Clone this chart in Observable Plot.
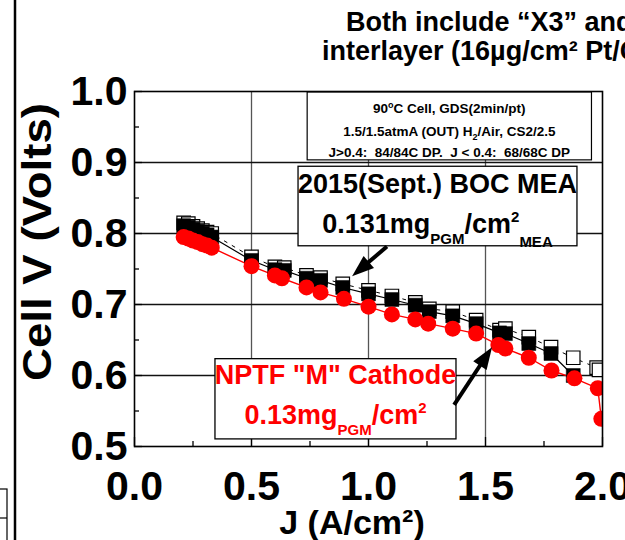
<!DOCTYPE html>
<html><head><meta charset="utf-8">
<script src="https://cdn.jsdelivr.net/npm/d3@7"></script>
<script src="https://cdn.jsdelivr.net/npm/@observablehq/plot@0.6"></script>
<style>
html,body{margin:0;padding:0;background:#fff;overflow:hidden;width:625px;height:540px}
#chart{position:relative;width:625px;height:540px;overflow:hidden}
</style></head><body><div id="chart"></div>
<script>
// ---- data ----
const bocJ = [0.21,0.23,0.25,0.27,0.29,0.31,0.33,0.50,0.60,0.64,0.735,0.795,0.89,1.00,1.10,1.20,1.26,1.36,1.46,1.56,1.585,1.685,1.78,1.875];
const bocV = [0.811,0.809,0.806,0.803,0.800,0.798,0.795,0.762,0.749,0.748,0.737,0.734,0.724,0.715,0.707,0.699,0.690,0.684,0.673,0.660,0.659,0.645,0.631,0.600];
const openJ = [0.21,0.23,0.25,0.27,0.29,0.31,0.33,0.50,0.60,0.64,0.735,0.795,0.89,1.00,1.10,1.20,1.26,1.36,1.46,1.56,1.585,1.685,1.78,1.875,1.975,1.985];
const openV = [0.815,0.814,0.810,0.807,0.804,0.802,0.800,0.767,0.753,0.752,0.741,0.738,0.729,0.720,0.712,0.703,0.694,0.690,0.678,0.664,0.666,0.654,0.640,0.625,0.611,0.608];
const nptfJ = [0.21,0.23,0.25,0.27,0.29,0.31,0.33,0.50,0.60,0.63,0.735,0.795,0.895,1.00,1.10,1.20,1.255,1.36,1.46,1.555,1.585,1.685,1.782,1.88,1.98,1.995];
const nptfV = [0.795,0.793,0.790,0.788,0.785,0.783,0.780,0.754,0.741,0.737,0.724,0.717,0.708,0.697,0.686,0.679,0.673,0.666,0.659,0.643,0.638,0.625,0.607,0.596,0.582,0.539];
const xTicks = [0.0,0.5,1.0,1.5,2.0];
const yTicks = [0.5,0.6,0.7,0.8,0.9,1.0];
const xMinor = [0.25,0.75,1.25,1.75];
const yMinor = [0.55,0.65,0.75,0.85,0.95];
const xGrid = [0.5,1.0,1.5];
const yGrid = [0.6,0.7,0.8,0.9];

const titleLines = ["Both include \u201CX3\u201D and", "interlayer (16\u00B5g/cm\u00B2 Pt/C)"];
const condLines = ["90°C Cell, GDS(2min/pt)", "1.5/1.5atmA (OUT) H2/Air, CS2/2.5", "J>0.4:  84/84C DP.  J < 0.4:  68/68C DP"];

const FONT = "'Liberation Sans', Arial, Helvetica, sans-serif";
const toRows = (J, V) => J.map((j, i) => ({J: j, V: V[i]}));
const boc = toRows(bocJ, bocV), open = toRows(openJ, openV), nptf = toRows(nptfJ, nptfV);

const W = 625, H = 540, ML = 134, MR = 23, MT = 91, MB = 94;
const PW = W - ML - MR, PH = H - MT - MB;

const plot = Plot.plot({
  width: W, height: H, marginLeft: ML, marginRight: MR, marginTop: MT, marginBottom: MB,
  style: {fontFamily: FONT, fontWeight: "bold", background: "white", color: "#000"},
  x: {domain: [0, 2]},
  y: {domain: [0.5, 1.0]},
  marks: [
    Plot.gridX(xGrid, {stroke: "#555", strokeOpacity: 1, strokeWidth: 1.3}),
    Plot.gridY(yGrid, {stroke: "#111", strokeOpacity: 1, strokeWidth: 1.3}),
    Plot.ruleX(xTicks, {insetTop: PH - 9, stroke: "#000", strokeWidth: 1.3}),
    Plot.ruleX(xMinor, {insetTop: PH - 5, stroke: "#000", strokeWidth: 1.3}),
    Plot.ruleY(yTicks, {insetRight: PW - 8, stroke: "#000", strokeWidth: 1.3}),
    Plot.ruleY(yMinor, {insetRight: PW - 5, stroke: "#000", strokeWidth: 1.3}),
    Plot.line(open, {x: "J", y: "V", stroke: "#000", strokeWidth: 1, strokeDasharray: "3,6", clip: true}),
    Plot.line(boc, {x: "J", y: "V", stroke: "#000", strokeWidth: 1.2, clip: true}),
    Plot.line(nptf, {x: "J", y: "V", stroke: "#ff0000", strokeWidth: 1.4, clip: true}),
    Plot.dot(open, {x: "J", y: "V", symbol: "square", r: 7.6, fill: "white", stroke: "#000", strokeWidth: 1.2, clip: true}),
    Plot.dot(boc, {x: "J", y: "V", symbol: "square", r: 7.9, fill: "#000", stroke: "#000", strokeWidth: 0.5, clip: true}),
    Plot.dot(nptf, {x: "J", y: "V", r: 8, fill: "#ff0000", stroke: "none", clip: true}),
    Plot.frame({stroke: "#000", strokeWidth: 1.6}),
    Plot.axisX(xTicks, {tickSize: 0, tickPadding: 24, tickFormat: d => d.toFixed(1), fontSize: 41, fontWeight: "bold", label: null}),
    Plot.axisY(yTicks, {tickSize: 0, tickPadding: 7, tickFormat: d => d.toFixed(1), fontSize: 41, fontWeight: "bold", label: null})
  ]
});
document.getElementById("chart").append(plot);

const sx = plot.scale("x"), sy = plot.scale("y");
const X = v => sx.apply(v), Y = v => sy.apply(v);
const svg = d3.select(plot);
const g = svg.append("g").attr("font-family", FONT).attr("font-weight", "bold").attr("text-anchor", "start");

// left-edge decoration from neighbouring slide
g.append("line").attr("x1", 15).attr("x2", 15).attr("y1", 0).attr("y2", H).attr("stroke", "#000").attr("stroke-width", 2.5);
g.append("rect").attr("x", -3).attr("y", 489).attr("width", 10).attr("height", 60).attr("fill", "none").attr("stroke", "#000").attr("stroke-width", 1.2);
g.append("line").attr("x1", -3).attr("x2", 7).attr("y1", 518).attr("y2", 518).attr("stroke", "#000").attr("stroke-width", 1.2);

// title (cropped by the window)
g.append("text").attr("x", 346).attr("y", 31).attr("font-size", 27).text(titleLines[0]);
g.append("text").attr("x", 322).attr("y", 60).attr("font-size", 27).text(titleLines[1]);

// axis titles
g.append("text").attr("transform", "translate(37,242) rotate(-90)").attr("text-anchor", "middle")
  .attr("dominant-baseline", "central").attr("font-size", 41)
  .attr("textLength", 278).attr("lengthAdjust", "spacingAndGlyphs").text("Cell V (Volts)");
g.append("text").attr("x", 352).attr("y", 534).attr("text-anchor", "middle").attr("font-size", 34).text("J (A/cm\u00B2)");

function box(x1, x2, y1, y2, color, sw) {
  g.append("rect").attr("x", X(x1)).attr("y", Y(y1)).attr("width", X(x2) - X(x1)).attr("height", Y(y2) - Y(y1))
    .attr("fill", "white").attr("stroke", color).attr("stroke-width", sw);
}
function arrow(j1, v1, j2, v2) {
  const x1 = X(j1), y1 = Y(v1), x2 = X(j2), y2 = Y(v2);
  const dx = x2 - x1, dy = y2 - y1, L = Math.hypot(dx, dy), ux = dx / L, uy = dy / L;
  const hl = 22, hw = 8;
  const bx = x2 - ux * hl, by = y2 - uy * hl;
  g.append("line").attr("x1", x1).attr("y1", y1).attr("x2", bx + ux * 2).attr("y2", by + uy * 2)
    .attr("stroke", "#000").attr("stroke-width", 4);
  g.append("polygon").attr("points", [[x2, y2], [bx - uy * hw, by + ux * hw], [bx + uy * hw, by - ux * hw]].map(p => p.join(",")).join(" "))
    .attr("fill", "#000");
}

// conditions box
box(0.74, 1.955, 0.9985, 0.903, "#000", 1.2);
const cx = X((0.74 + 1.955) / 2);
let t = g.append("text").attr("x", cx).attr("y", Y(0.969)).attr("text-anchor", "middle").attr("font-size", 13.5);
t.append("tspan").text("90");
t.append("tspan").attr("dy", -5).attr("font-size", 9).text("o");
t.append("tspan").attr("dy", 5).text("C Cell, GDS(2min/pt)");
t = g.append("text").attr("x", cx).attr("y", Y(0.937)).attr("text-anchor", "middle").attr("font-size", 13.5);
t.append("tspan").text("1.5/1.5atmA (OUT) H");
t.append("tspan").attr("dy", 4).attr("font-size", 9).text("2");
t.append("tspan").attr("dy", -4).text("/Air, CS2/2.5");
g.append("text").attr("x", cx).attr("y", Y(0.907)).attr("text-anchor", "middle").attr("font-size", 13.5)
  .style("white-space", "pre").text(condLines[2]);

// BOC box
box(0.701, 1.893, 0.894, 0.782, "#000", 1.3);
const bx = X((0.701 + 1.893) / 2);
g.append("text").attr("x", bx).attr("y", Y(0.8565)).attr("text-anchor", "middle").attr("font-size", 27).text("2015(Sept.) BOC MEA");
t = g.append("text").attr("x", bx).attr("y", Y(0.7995)).attr("text-anchor", "middle").attr("font-size", 27);
t.append("tspan").text("0.131mg");
t.append("tspan").attr("dy", 11).attr("font-size", 15).text("PGM");
t.append("tspan").attr("dy", -11).text("/cm");
t.append("tspan").attr("dy", -11).attr("font-size", 15).text("2");
t.append("tspan").attr("dy", 25).attr("font-size", 15).text("MEA");

// NPTF box
box(0.346, 1.376, 0.623, 0.510, "#000", 1.3);
const nx = X((0.346 + 1.376) / 2);
g.append("text").attr("x", nx).attr("y", Y(0.5875)).attr("text-anchor", "middle").attr("font-size", 27).attr("fill", "#ff0000").text("NPTF \"M\" Cathode");
t = g.append("text").attr("x", nx).attr("y", Y(0.5305)).attr("text-anchor", "middle").attr("font-size", 27).attr("fill", "#ff0000");
t.append("tspan").text("0.13mg");
t.append("tspan").attr("dy", 11).attr("font-size", 15).text("PGM");
t.append("tspan").attr("dy", -11).text("/cm");
t.append("tspan").attr("dy", -11).attr("font-size", 15).text("2");

// arrows
arrow(1.081, 0.781, 0.932, 0.739);
arrow(1.368, 0.558, 1.530, 0.639);
</script>
</body></html>
